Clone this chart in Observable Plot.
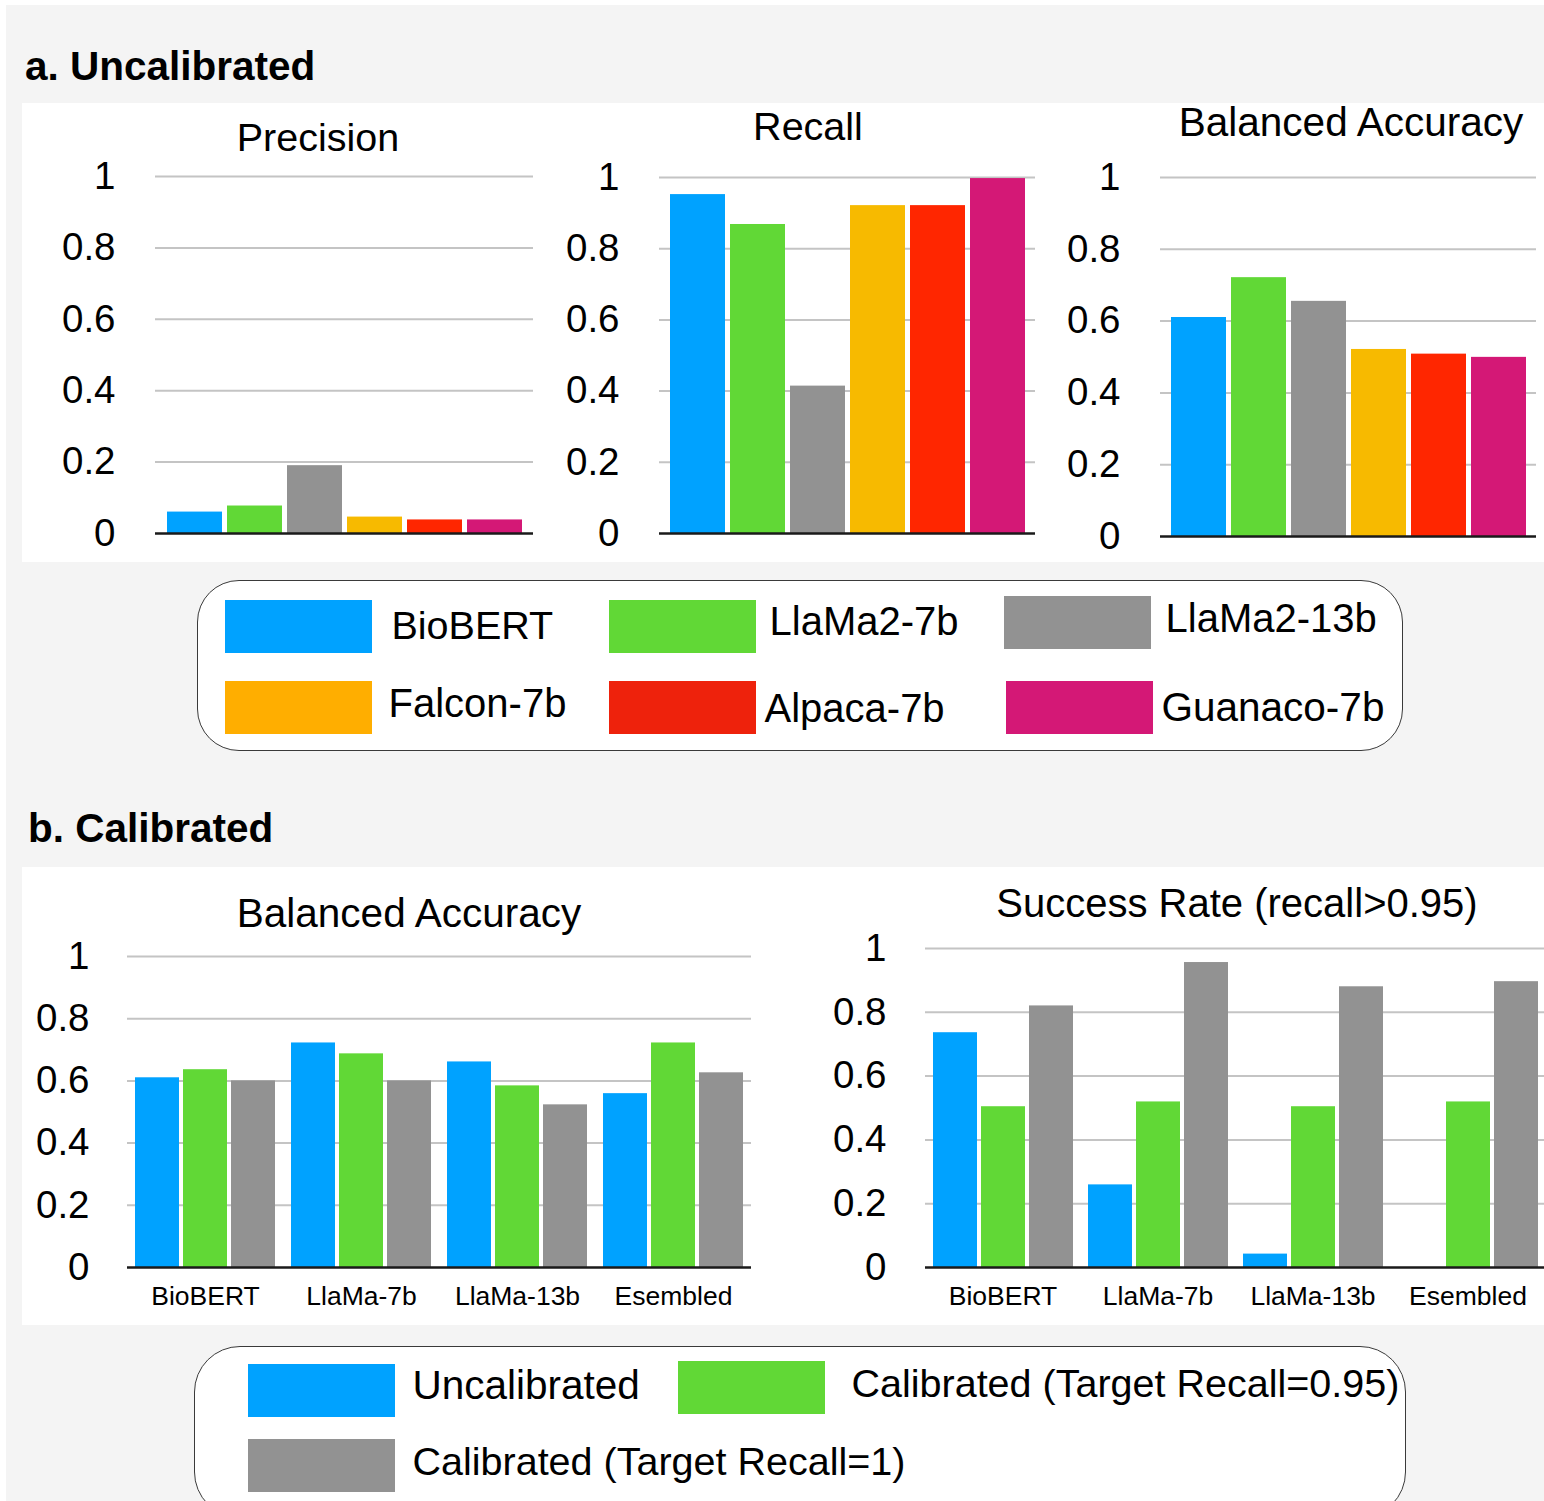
<!DOCTYPE html>
<html>
<head>
<meta charset="utf-8">
<script src="https://cdn.jsdelivr.net/npm/d3@7"></script>
<script src="https://cdn.jsdelivr.net/npm/@observablehq/plot@0.6"></script>
<style>
  html, body { margin: 0; padding: 0; background: #fff; overflow: hidden; }
  body { width: 1544px; height: 1501px; position: relative; font-family: "Liberation Sans", Arial, Helvetica, sans-serif; color: #000; }
  .abs { position: absolute; }
  .txt { position: absolute; white-space: nowrap; line-height: 1; }
  .plot-holder svg { background: transparent !important; overflow: visible; max-width: none !important; }
  .legend { position: absolute; background: #fff; border: 1.5px solid #3a3a3a; box-sizing: border-box; }
  .sw { position: absolute; width: 147px; height: 53px; }
</style>
</head>
<body>
<div id="root"></div>
<script>
// ---------- DATA ----------
const models = ["BioBERT", "LlaMa2-7b", "LlaMa2-13b", "Falcon-7b", "Alpaca-7b", "Guanaco-7b"];
const modelColors = ["#00a2ff", "#61d836", "#929292", "#f7ba00", "#ff2600", "#d41876"];
const modelLegendColors = ["#00a2ff", "#61d836", "#929292", "#ffae00", "#ee220c", "#d41876"];

const precision = [0.060, 0.077, 0.190, 0.046, 0.038, 0.038];
const recall = [0.952, 0.868, 0.414, 0.921, 0.921, 0.997];
const balancedAccA = [0.610, 0.721, 0.655, 0.521, 0.508, 0.499];

const groups = ["BioBERT", "LlaMa-7b", "LlaMa-13b", "Esembled"];
const conditions = ["Uncalibrated", "Calibrated (Target Recall=0.95)", "Calibrated (Target Recall=1)"];
const conditionColors = ["#00a2ff", "#61d836", "#929292"];

const baUncal = [0.610, 0.722, 0.661, 0.559];
const baCal95 = [0.636, 0.687, 0.584, 0.722];
const baCal1  = [0.600, 0.600, 0.523, 0.626];

const srUncal = [0.736, 0.259, 0.042, 0.000];
const srCal95 = [0.504, 0.519, 0.504, 0.519];
const srCal1  = [0.820, 0.956, 0.880, 0.896];

const yTicks = [0, 0.2, 0.4, 0.6, 0.8, 1];
const yTickLabels = ["0", "0.2", "0.4", "0.6", "0.8", "1"];

// ---------- HELPERS ----------
const root = document.getElementById("root");
const FONT = '"Liberation Sans", Arial, Helvetica, sans-serif';
const TICK_SIZE = "38.5px";

function box(left, top, width, height, bg) {
  const d = document.createElement("div");
  d.className = "abs";
  Object.assign(d.style, {left: left + "px", top: top + "px", width: width + "px", height: height + "px", background: bg});
  root.appendChild(d);
  return d;
}
function text(t, x, baseline, size, {bold = false, center = false, parent = root} = {}) {
  const d = document.createElement("div");
  d.className = "txt";
  d.textContent = t;
  Object.assign(d.style, {
    left: x + "px",
    top: (baseline - 0.8465 * size) + "px",
    fontSize: size + "px",
    fontWeight: bold ? "bold" : "normal",
    transform: center ? "translateX(-50%)" : "none"
  });
  parent.appendChild(d);
}
function place(svg, left, top) {
  const h = document.createElement("div");
  h.className = "abs plot-holder";
  h.style.left = left + "px";
  h.style.top = top + "px";
  h.appendChild(svg);
  root.appendChild(h);
}
const tickFmt = d => yTickLabels[yTicks.indexOf(d)] ?? String(d);

function modelChart(values, {width, height, marginLeft, marginTop, marginBottom, marginRight, tickPadding}) {
  const data = models.map((m, i) => ({model: m, value: values[i]}));
  return Plot.plot({
    width, height, marginLeft, marginTop, marginBottom, marginRight,
    style: {fontFamily: FONT, fontSize: TICK_SIZE, color: "#000", background: "transparent", overflow: "visible"},
    x: {domain: models, paddingInner: 0.09, paddingOuter: 0.174, axis: null},
    y: {domain: [0, 1], ticks: yTicks, tickFormat: tickFmt, tickSize: 0, tickPadding, label: null},
    color: {domain: models, range: modelColors},
    marks: [
      Plot.gridY(yTicks.slice(1), {stroke: "#c4c4c4", strokeOpacity: 1, strokeWidth: 2}),
      Plot.barY(data, {x: "model", y: "value", fill: "model"}),
      Plot.ruleY([0], {stroke: "#1a1a1a", strokeWidth: 2.5})
    ]
  });
}

function groupChart(series, {width, height, marginLeft, marginTop, marginBottom, marginRight, tickPadding}) {
  const data = [];
  groups.forEach((g, gi) => conditions.forEach((c, ci) => data.push({group: g, cond: c, value: series[ci][gi]})));
  return Plot.plot({
    width, height, marginLeft, marginTop, marginBottom, marginRight,
    style: {fontFamily: FONT, fontSize: TICK_SIZE, color: "#000", background: "transparent", overflow: "visible"},
    fx: {domain: groups, paddingInner: 0, paddingOuter: 0, axis: null, label: null},
    x: {domain: conditions, paddingInner: 0.09, paddingOuter: 0.148, axis: null},
    y: {domain: [0, 1], ticks: yTicks, tickFormat: tickFmt, tickSize: 0, tickPadding, label: null},
    color: {domain: conditions, range: conditionColors},
    marks: [
      Plot.gridY(yTicks.slice(1), {stroke: "#c4c4c4", strokeOpacity: 1, strokeWidth: 2}),
      Plot.barY(data, {fx: "group", x: "cond", y: "value", fill: "cond"}),
      Plot.ruleY([0], {stroke: "#1a1a1a", strokeWidth: 2.5}),
      Plot.text(groups, {fx: d => d, text: d => d, frameAnchor: "bottom", lineAnchor: "middle", dy: 29, fontSize: 26.5, fill: "#000"})
    ]
  });
}

// slots: [swatchLeft, swatchTop, textLeft, textBaseline]
function legend(names, colors, {left, top, width, height, radius, slots, fontSize}) {
  const L = document.createElement("div");
  L.className = "legend";
  Object.assign(L.style, {left: left + "px", top: top + "px", width: width + "px", height: height + "px", borderRadius: radius + "px"});
  root.appendChild(L);
  const bw = 1.5;
  names.forEach((n, i) => {
    const [sx, sy, tx, tb] = slots[i];
    const sw = document.createElement("div");
    sw.className = "sw";
    sw.style.left = (sx - left - bw) + "px";
    sw.style.top = (sy - top - bw) + "px";
    sw.style.background = colors[i];
    L.appendChild(sw);
    text(n, tx - left - bw, tb - top - bw, fontSize[i], {parent: L});
  });
}

// ---------- LAYOUT ----------
box(6, 5, 1538, 1496, "#f4f4f4");
box(22, 103, 1522, 459, "#fff");
box(22, 867, 1522, 458, "#fff");

text("a. Uncalibrated", 25, 80, 40.5, {bold: true});
text("b. Calibrated", 28, 842, 40.5, {bold: true});

text("Precision", 318, 151, 39.5, {center: true});
text("Recall", 808, 140, 39.5, {center: true});
text("Balanced Accuracy", 1351, 136, 40.5, {center: true});
text("Balanced Accuracy", 409, 927, 40.5, {center: true});
text("Success Rate (recall>0.95)", 1237, 917, 40, {center: true});

place(modelChart(precision, {width: 515, height: 423, marginLeft: 135, marginRight: 2, marginTop: 36, marginBottom: 30, tickPadding: 40}), 20, 140);
place(modelChart(recall, {width: 517, height: 423, marginLeft: 139, marginRight: 2, marginTop: 37, marginBottom: 30, tickPadding: 40}), 520, 140);
place(modelChart(balancedAccA, {width: 518, height: 426, marginLeft: 140, marginRight: 2, marginTop: 37, marginBottom: 30, tickPadding: 40}), 1020, 140);

place(groupChart([baUncal, baCal95, baCal1], {width: 754, height: 402, marginLeft: 126, marginRight: 2, marginTop: 41, marginBottom: 50, tickPadding: 38}), 0, 915);
place(groupChart([srUncal, srCal95, srCal1], {width: 746, height: 402, marginLeft: 124, marginRight: 0, marginTop: 33, marginBottom: 50, tickPadding: 39}), 800, 915);

legend(models, modelLegendColors, {
  left: 197, top: 580, width: 1206, height: 171, radius: 42,
  fontSize: [39.5, 40, 40, 40, 40, 40.5],
  slots: [[225, 600, 392, 640], [609, 600, 770, 635], [1004, 596, 1166, 632],
          [225, 681, 389, 717], [609, 681, 765, 722], [1006, 681, 1162, 722]]
});
legend(conditions, conditionColors, {
  left: 194, top: 1346, width: 1212, height: 172, radius: 46,
  fontSize: [40.5, 39.5, 39.5],
  slots: [[248, 1364, 413, 1400], [678, 1361, 852, 1398], [248, 1439, 413, 1476]]
});
</script>
</body>
</html>
